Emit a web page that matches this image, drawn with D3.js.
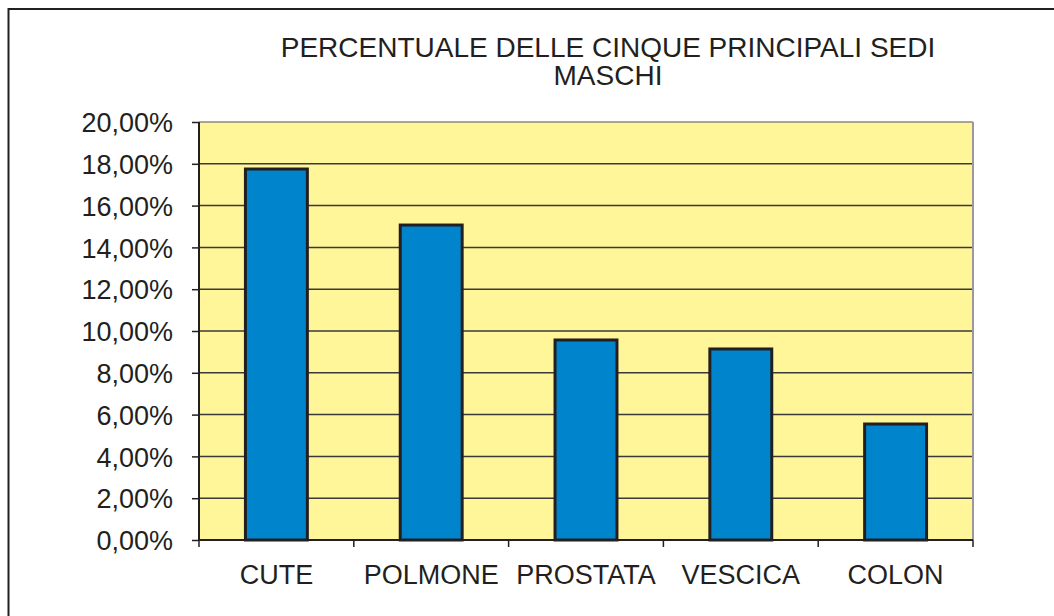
<html>
<head>
<meta charset="utf-8">
<style>
  body { margin: 0; background: #fff; }
  text { font-family: "Liberation Sans", Arial, sans-serif; fill: #231f20; }
</style>
</head>
<body>
<svg id="plot"></svg>
<script src="https://d3js.org/d3.v7.min.js"></script>
<script>

var sites = ["CUTE", "POLMONE", "PROSTATA", "VESCICA", "COLON"];
var percents = [17.75, 15.07, 9.57, 9.14, 5.55];
var yTicks = [0, 2, 4, 6, 8, 10, 12, 14, 16, 18, 20];
var titleLines = ["PERCENTUALE DELLE CINQUE PRINCIPALI SEDI", "MASCHI"];

var screen = {width: 1054, height: 616};
var margins = {top: 122, left: 199, right: 81, bottom: 76};
var graph = {
    width: screen.width - margins.left - margins.right,
    height: screen.height - margins.top - margins.bottom
};

var svg = d3.select("#plot")
    .attr("width", screen.width)
    .attr("height", screen.height);

// outer frame (right and bottom fall off the picture)
svg.append("rect")
    .attr("x", 8.5).attr("y", 9)
    .attr("width", 1060).attr("height", 620)
    .attr("fill", "none")
    .attr("stroke", "#231f20")
    .attr("stroke-width", 2);

var yScale = d3.scaleLinear()
    .domain([0, 20])
    .range([graph.height, 0]);

var g = svg.append("g")
    .attr("transform", "translate(" + margins.left + "," + margins.top + ")");

// plot background
g.append("rect")
    .attr("width", graph.width)
    .attr("height", graph.height)
    .attr("fill", "#fff599");

// gridlines
g.selectAll(".grid")
    .data(yTicks.slice(1))
    .enter()
    .append("line")
    .attr("x1", 0).attr("x2", graph.width)
    .attr("y1", function(d) { return yScale(d); })
    .attr("y2", function(d) { return yScale(d); })
    .attr("stroke", function(d) { return d == 20 ? "#8a8a7a" : "#3a3a3a"; })
    .attr("stroke-width", 1.5);

// right border of plot area
g.append("line")
    .attr("x1", graph.width).attr("x2", graph.width)
    .attr("y1", 0).attr("y2", graph.height)
    .attr("stroke", "#9a9a9a")
    .attr("stroke-width", 2);

// bars
var bands = d3.scaleBand().domain(sites).range([0, graph.width]);
g.selectAll(".bar")
    .data(sites)
    .enter()
    .append("rect")
    .attr("x", function(d) { return bands(d) + bands.bandwidth() * 0.3; })
    .attr("y", function(d, i) { return yScale(percents[i]); })
    .attr("width", bands.bandwidth() * 0.4)
    .attr("height", function(d, i) { return graph.height - yScale(percents[i]); })
    .attr("fill", "#0085cc")
    .attr("stroke", "#231f20")
    .attr("stroke-width", 3);

// y axis
var yAxis = d3.axisLeft(yScale)
    .tickValues(yTicks)
    .tickSize(7)
    .tickPadding(19)
    .tickFormat(function(d) { return d3.format(".2f")(d).replace(".", ",") + "%"; });

var yG = g.append("g").call(yAxis);
yG.select(".domain").attr("stroke", "#231f20").attr("stroke-width", 2)
    .attr("d", "M0,0V" + graph.height);
yG.selectAll(".tick line").attr("stroke", "#231f20").attr("stroke-width", 1.5);
yG.selectAll("text")
    .style("font-size", "27px")
    .style("font-family", "'Liberation Sans', Arial, sans-serif")
    .attr("fill", "#231f20")
    .attr("dy", "0.36em");

// x axis: ticks sit on band boundaries
var xG = g.append("g")
    .attr("transform", "translate(0," + graph.height + ")");
xG.append("line")
    .attr("x1", 0).attr("x2", graph.width)
    .attr("stroke", "#231f20").attr("stroke-width", 2);
xG.selectAll(".xtick")
    .data(sites.concat(["end"]))
    .enter()
    .append("line")
    .attr("x1", function(d, i) { return i * bands.step(); })
    .attr("x2", function(d, i) { return i * bands.step(); })
    .attr("y1", 0).attr("y2", 7)
    .attr("stroke", "#231f20").attr("stroke-width", 1.5);
xG.selectAll(".xlabel")
    .data(sites)
    .enter()
    .append("text")
    .attr("x", function(d) { return bands(d) + bands.bandwidth() / 2; })
    .attr("y", 44)
    .attr("text-anchor", "middle")
    .style("font-size", "27px")
    .text(function(d) { return d; });

// title
svg.selectAll(".title")
    .data(titleLines)
    .enter()
    .append("text")
    .attr("x", 608)
    .attr("y", function(d, i) { return 57 + i * 28; })
    .attr("text-anchor", "middle")
    .style("font-size", "28px")
    .text(function(d) { return d; });

</script>
</body>
</html>
